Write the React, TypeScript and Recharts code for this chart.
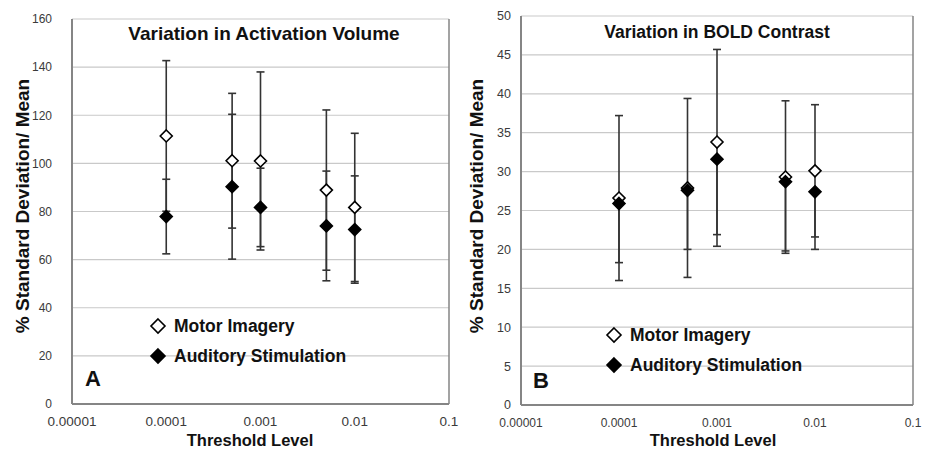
import React from 'react';
import { ComposedChart, Scatter, ErrorBar, XAxis, YAxis, CartesianGrid } from 'recharts';

// threshold levels (log axis) and the values
const thresholds = [0.0001, 0.0005, 0.001, 0.005, 0.01];
const xTicks = [0.00001, 0.0001, 0.001, 0.01, 0.1];
const xTickLabels = ['0.00001', '0.0001', '0.001', '0.01', '0.1'];

const motorVolume = [111.4, 101.1, 101.0, 88.9, 81.7];
const motorVolumeErr = [31.3, 28.0, 37.0, 33.3, 30.8];
const auditoryVolume = [77.9, 90.3, 81.7, 74.0, 72.5];
const auditoryVolumeErr = [15.5, 30.1, 16.3, 22.8, 22.3];
const volumeTicks = [0, 20, 40, 60, 80, 100, 120, 140, 160];

const motorBold = [26.6, 27.9, 33.8, 29.3, 30.1];
const motorBoldErr = [10.6, 11.5, 11.9, 9.8, 8.5];
const auditoryBold = [25.9, 27.6, 31.6, 28.7, 27.4];
const auditoryBoldErrMinus = [7.6, 7.6, 11.2, 8.9, 7.4];
const boldTicks = [0, 5, 10, 15, 20, 25, 30, 35, 40, 45, 50];

const FONT = '"Liberation Sans", Arial, sans-serif';
const AXIS = '#858585';
const GRID = '#c9c9c9';
const BAR = '#333';

type Pt = { x: number; y: number; err: number | number[] };

const toPoints = (ys: number[], errs: (number | number[])[]): Pt[] =>
  thresholds.map((x, i) => ({ x, y: ys[i], err: errs[i] }));

const diamond = (filled: boolean, r = 6) => (p: any) => {
  const { cx, cy } = p;
  if (cx == null || cy == null) return <g />;
  const pts = `${cx},${cy - r} ${cx + r},${cy} ${cx},${cy + r} ${cx - r},${cy}`;
  return <polygon points={pts} fill={filled ? '#000' : '#fff'} stroke="#000" strokeWidth={1.6} />;
};

const nothing = () => <g />;

interface PanelProps {
  width: number;
  yWidth: number;
  top: number;
  xHeight: number;
  yTicks: number[];
  yTickMargin: number;
  yTickSize: number;
  xTickFont: number;
  xTickMargin: number;
  motor: Pt[];
  auditory: Pt[];
}

const Panel: React.FC<PanelProps> = (p) => {
  const domain: [number, number] = [p.yTicks[0], p.yTicks[p.yTicks.length - 1]];
  return (
    <ComposedChart width={p.width} height={450} margin={{ top: p.top, right: 9, bottom: 0, left: 0 }}>
      <CartesianGrid vertical={false} stroke={GRID} strokeWidth={1.2} />
      <XAxis
        dataKey="x"
        type="number"
        scale="log"
        domain={[xTicks[0], xTicks[xTicks.length - 1]]}
        ticks={xTicks}
        allowDataOverflow
        height={p.xHeight}
        tickLine={false}
        tickSize={0}
        tickMargin={p.xTickMargin}
        axisLine={{ stroke: AXIS, strokeWidth: 2 }}
        tick={{ fill: '#3a3a3a', fontSize: p.xTickFont, fontFamily: FONT }}
        tickFormatter={(_v: number, i: number) => xTickLabels[i]}
      />
      <YAxis
        dataKey="y"
        type="number"
        domain={domain}
        ticks={p.yTicks}
        width={p.yWidth}
        tickLine={false}
        tickSize={0}
        tickMargin={p.yTickMargin}
        axisLine={{ stroke: AXIS, strokeWidth: 2 }}
        tick={{ fill: '#3a3a3a', fontSize: p.yTickSize, fontFamily: FONT }}
      />
      <YAxis
        yAxisId="r"
        orientation="right"
        type="number"
        domain={domain}
        ticks={p.yTicks}
        width={6}
        tick={false}
        tickSize={4}
        tickLine={{ stroke: AXIS }}
        axisLine={{ stroke: AXIS, strokeWidth: 1.5 }}
      />
      {/* error bars first, markers on top */}
      <Scatter data={p.motor} shape={nothing} isAnimationActive={false}>
        <ErrorBar dataKey="err" direction="y" width={4} stroke={BAR} strokeWidth={1.6} />
      </Scatter>
      <Scatter data={p.auditory} shape={nothing} isAnimationActive={false}>
        <ErrorBar dataKey="err" direction="y" width={4} stroke={BAR} strokeWidth={1.6} />
      </Scatter>
      <Scatter data={p.motor} shape={diamond(false)} isAnimationActive={false} />
      <Scatter data={p.auditory} shape={diamond(true)} isAnimationActive={false} />
    </ComposedChart>
  );
};

const LegendMark: React.FC<{ x: number; y: number; filled: boolean; label: string }> = ({ x, y, filled, label }) => (
  <g>
    <polygon
      points={`${x},${y - 7} ${x + 7},${y} ${x},${y + 7} ${x - 7},${y}`}
      fill={filled ? '#000' : '#fff'}
      stroke="#000"
      strokeWidth={1.6}
    />
    <text x={x + 16} y={y} dominantBaseline="central" fontSize={17.5} fontWeight="bold" fill="#111">
      {label}
    </text>
  </g>
);

export default function App() {
  return (
    <div style={{ position: 'absolute', left: 0, top: 0, width: 928, height: 450, background: '#fff', fontFamily: FONT }}>
      <div style={{ position: 'absolute', left: 0, top: 0 }}>
        <Panel
          width={464}
          yWidth={72}
          top={19}
          xHeight={46}
          yTicks={volumeTicks}
          yTickMargin={20}
          yTickSize={12}
          xTickFont={13.5}
          xTickMargin={12}
          motor={toPoints(motorVolume, motorVolumeErr)}
          auditory={toPoints(auditoryVolume, auditoryVolumeErr)}
        />
      </div>
      <div style={{ position: 'absolute', left: 464, top: 0 }}>
        <Panel
          width={464}
          yWidth={57}
          top={16}
          xHeight={45}
          yTicks={boldTicks}
          yTickMargin={10}
          yTickSize={12.5}
          xTickFont={12}
          xTickMargin={13}
          motor={toPoints(motorBold, motorBoldErr)}
          auditory={toPoints(auditoryBold, auditoryBoldErrMinus.map((m) => [m, 0]))}
        />
      </div>
      <svg width={928} height={450} style={{ position: 'absolute', left: 0, top: 0, pointerEvents: 'none' }} fontFamily={FONT}>
        <text x={264} y={33} textAnchor="middle" dominantBaseline="central" fontSize={19} fontWeight="bold" fill="#111">
          Variation in Activation Volume
        </text>
        <text x={717} y={31.5} textAnchor="middle" dominantBaseline="central" fontSize={17.5} fontWeight="bold" fill="#111">
          Variation in BOLD Contrast
        </text>
        <text transform="translate(22,206) rotate(-90)" textAnchor="middle" dominantBaseline="central" fontSize={19} fontWeight="bold" fill="#111">
          % Standard Deviation/ Mean
        </text>
        <text transform="translate(476,206) rotate(-90)" textAnchor="middle" dominantBaseline="central" fontSize={19} fontWeight="bold" fill="#111">
          % Standard Deviation/ Mean
        </text>
        <text x={250} y={440} textAnchor="middle" dominantBaseline="central" fontSize={16.5} fontWeight="bold" fill="#111">
          Threshold Level
        </text>
        <text x={713} y={440} textAnchor="middle" dominantBaseline="central" fontSize={16.5} fontWeight="bold" fill="#111">
          Threshold Level
        </text>
        <text x={85} y={378} dominantBaseline="central" fontSize={22} fontWeight="bold" fill="#111">A</text>
        <text x={533} y={380} dominantBaseline="central" fontSize={22} fontWeight="bold" fill="#111">B</text>
        <LegendMark x={158} y={326} filled={false} label="Motor Imagery" />
        <LegendMark x={158} y={356} filled label="Auditory Stimulation" />
        <LegendMark x={614} y={335} filled={false} label="Motor Imagery" />
        <LegendMark x={614} y={365} filled label="Auditory Stimulation" />
      </svg>
    </div>
  );
}
